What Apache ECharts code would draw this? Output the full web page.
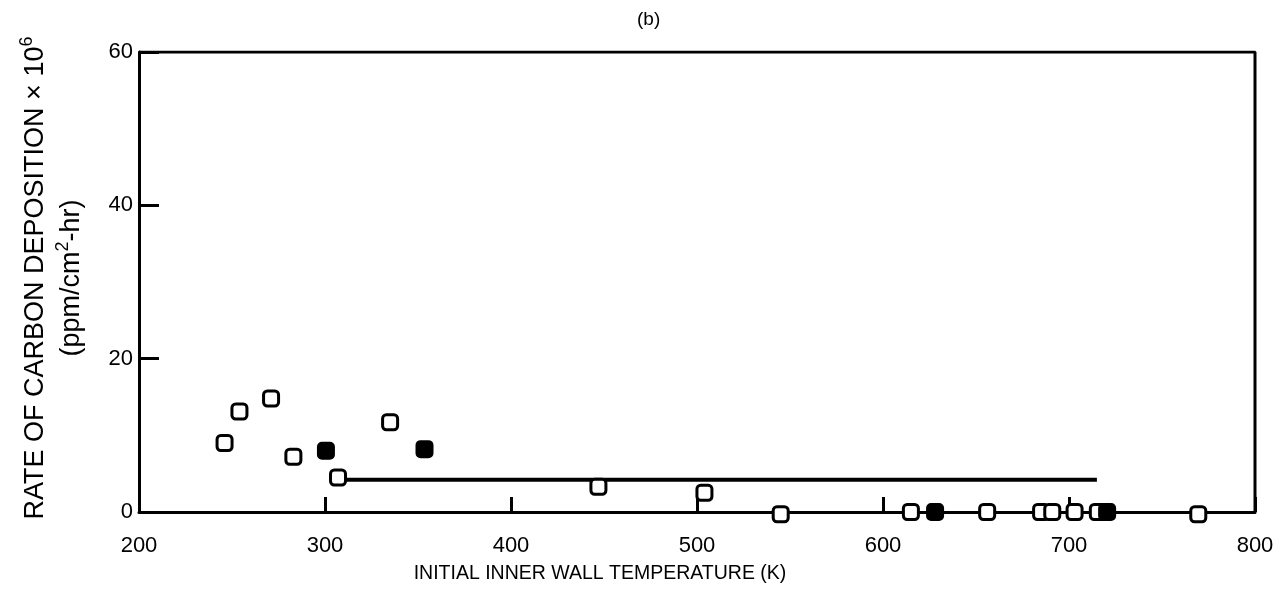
<!DOCTYPE html>
<html>
<head>
<meta charset="utf-8">
<script src="https://cdn.jsdelivr.net/npm/echarts@6/dist/echarts.min.js"></script>
<style>
  html, body { margin: 0; padding: 0; background: #fff; }
  #chart { width: 1282px; height: 601px; }
</style>
</head>
<body>
<div id="chart"></div>
<script>
// open squares: [temperature K, rate]
var openPts = [
  [246, 9.0], [254, 13.1], [271, 14.8], [283, 7.2], [307, 4.5],
  [335, 11.7], [447, 3.3], [504, 2.5], [545, -0.3], [615, 0],
  [656, 0], [685, 0], [691, 0], [703, 0], [715.5, 0], [769.5, -0.3]
];
// filled squares
var filledPts = [[300.5, 8.0], [353.5, 8.2], [628, 0], [720.5, 0]];
// horizontal reference line
var refLine = [[310, 4.2], [715, 4.2]];

var xTicks = { min: 200, max: 800, step: 100 };
var yTicks = { min: 0, max: 60, step: 20 };

var font = '"Liberation Sans", Arial, sans-serif';
var chart = echarts.init(document.getElementById('chart'));

var option = {
  backgroundColor: '#ffffff',
  animation: false,
  title: {
    text: '(b)',
    left: 632,
    top: 5,
    textStyle: { fontFamily: font, fontSize: 19, fontWeight: 'normal', color: '#000' }
  },
  grid: { left: 139, right: 27, top: 52, bottom: 89, outerBoundsMode: 'none', containLabel: false },
  xAxis: {
    type: 'value',
    min: xTicks.min, max: xTicks.max, interval: xTicks.step,
    name: 'INITIAL INNER WALL TEMPERATURE (K)',
    nameLocation: 'middle',
    nameGap: 52,
    nameTextStyle: { fontFamily: font, fontSize: 19.5, color: '#000', padding: [0, 194, 0, 0] },
    axisLine: { lineStyle: { color: '#000', width: 3 } },
    axisTick: { inside: true, length: 15, lineStyle: { color: '#000', width: 3 } },
    axisLabel: { fontFamily: font, fontSize: 22, color: '#000', margin: 23 },
    splitLine: { show: false }
  },
  yAxis: {
    type: 'value',
    min: yTicks.min, max: yTicks.max, interval: yTicks.step,
    name: 'RATE OF CARBON DEPOSITION × 10{sup|6}\n(ppm/cm{sup|2}-hr)',
    nameLocation: 'middle',
    nameRotate: 90,
    nameGap: 49,
    nameTextStyle: {
      fontFamily: font, fontSize: 27, color: '#000', lineHeight: 36,
      padding: [0, 0, 0, 8],
      rich: { sup: { fontFamily: font, fontSize: 18, color: '#000', verticalAlign: 'top', lineHeight: 36 } }
    },
    axisLine: { onZero: false, lineStyle: { color: '#000', width: 3 } },
    axisTick: { inside: true, length: 20, lineStyle: { color: '#000', width: 3 } },
    axisLabel: { fontFamily: font, fontSize: 22, color: '#000', margin: 6 },
    splitLine: { show: false }
  },
  series: [
    {
      type: 'line',
      data: refLine,
      symbol: 'none',
      lineStyle: { color: '#000', width: 4 },
      z: 1
    },
    {
      type: 'line',
      data: [[xTicks.max, yTicks.min], [xTicks.max, yTicks.max], [xTicks.min, yTicks.max]],
      symbol: 'none',
      lineStyle: { color: '#000', width: 3 },
      z: 1
    },
    {
      type: 'scatter',
      data: openPts,
      symbol: 'roundRect',
      symbolSize: 15,
      clip: false,
      itemStyle: { color: '#fff', borderColor: '#000', borderWidth: 3, opacity: 1 },
      z: 3
    },
    {
      type: 'scatter',
      data: filledPts,
      symbol: 'roundRect',
      symbolSize: 16,
      clip: false,
      itemStyle: { color: '#000', borderColor: '#000', borderWidth: 2, opacity: 1 },
      z: 3
    }
  ]
};
chart.setOption(option);
</script>
</body>
</html>
